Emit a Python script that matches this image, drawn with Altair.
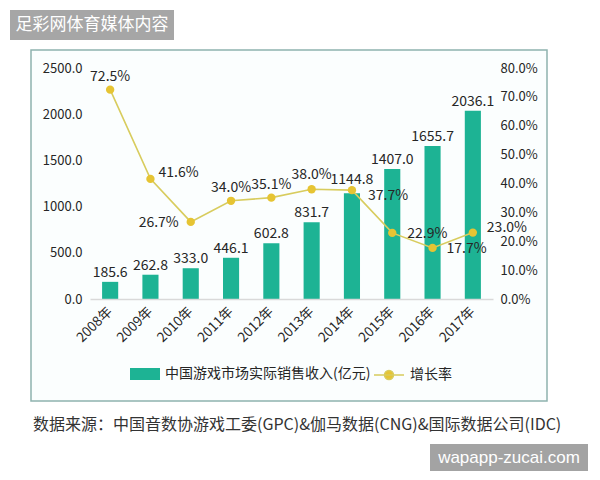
import altair as alt
import pandas as pd

# ---------------- data ----------------
years = ["2008年", "2009年", "2010年", "2011年", "2012年",
         "2013年", "2014年", "2015年", "2016年", "2017年"]
revenue = [185.6, 262.8, 333.0, 446.1, 602.8, 831.7, 1144.8, 1407.0, 1655.7, 2036.1]
growth = [72.5, 41.6, 26.7, 34.0, 35.1, 38.0, 37.7, 22.9, 17.7, 23.0]
left_ticks = [0, 500, 1000, 1500, 2000, 2500]
right_ticks = [0, 10, 20, 30, 40, 50, 60, 70, 80]
bar_series = "中国游戏市场实际销售收入(亿元)"
line_series = "增长率"
title_text = "足彩网体育媒体内容"
source_text = "数据来源：中国音数协游戏工委(GPC)&伽马数据(CNG)&国际数据公司(IDC)"
watermark_text = "wapapp-zucai.com"

# ---------------- styles ----------------
FONT = "Noto Sans CJK SC"
BAR_COLOR = "#1db394"
LINE_COLOR = "#d8cc5e"
POINT_COLOR = "#e6c433"
TEXT_COLOR = "#262626"
W, H = 403, 231
PAD = {"left": 90, "top": 68, "right": 107, "bottom": 181}

# label placement for growth labels: (dx, dy, align)
rate_label_style = {
    "2008年": (0, -13, "center"),
    "2009年": (8, -6, "left"),
    "2010年": (-12, 1, "right"),
    "2011年": (0, -13, "center"),
    "2012年": (0, -13, "center"),
    "2013年": (0, -14, "center"),
    "2014年": (16, 6, "left"),
    "2015年": (15, 1, "left"),
    "2016年": (14, 1, "left"),
    "2017年": (14, -5, "left"),
}
bar_label_dy = {"2014年": -13}

df = pd.DataFrame({
    "year": years,
    "revenue": revenue,
    "growth": growth,
    "bar_s": [bar_series] * len(years),
    "line_s": [line_series] * len(years),
})
one = pd.DataFrame({"a": [0]})

x_enc = alt.X(
    "year:O", sort=years, title=None,
    scale=alt.Scale(paddingInner=0.6, paddingOuter=0.3),
    axis=alt.Axis(labelAngle=-45, labelAlign="right", labelBaseline="middle",
                  labelPadding=10, ticks=False, domainColor="#d9d9d9",
                  domainWidth=1.5, labelFont=FONT, labelFontSize=13.5,
                  labelColor=TEXT_COLOR, zindex=1),
)

# ---------------- left (bars) ----------------
y_left = alt.Y(
    "revenue:Q", title=None,
    scale=alt.Scale(domain=[0, 2500], nice=False),
    axis=alt.Axis(values=left_ticks, format=".1f", grid=False, domain=False,
                  ticks=False, labelPadding=8, labelFont=FONT,
                  labelFontSize=13, labelColor=TEXT_COLOR, zindex=1),
)
bar_base = alt.Chart(df).encode(x=x_enc, y=y_left)
bars = bar_base.mark_bar().encode(
    color=alt.Color(
        "bar_s:N", title=None,
        scale=alt.Scale(domain=[bar_series], range=[BAR_COLOR]),
        legend=alt.Legend(orient="none", legendX=45, legendY=296,
                          symbolType="M-1.5,-0.6H1.5V0.6H-1.5Z",
                          symbolSize=400, symbolStrokeWidth=0,
                          labelFont=FONT, labelFontSize=14, labelLimit=400,
                          labelColor=TEXT_COLOR, labelOffset=10, padding=0,
                          zindex=1),
    )
)
bar_text_layers = []
for yr in years:
    dy = bar_label_dy.get(yr, -9)
    bar_text_layers.append(
        bar_base.transform_filter(alt.datum.year == yr).mark_text(
            font=FONT, fontSize=14, color=TEXT_COLOR, baseline="middle", dy=dy
        ).encode(text=alt.Text("revenue:Q", format=".1f"))
    )
left = alt.layer(bars, *bar_text_layers)

# ---------------- right (growth line) ----------------
y_right = alt.Y(
    "growth:Q", title=None,
    scale=alt.Scale(domain=[0, 80], nice=False),
    axis=alt.Axis(orient="right", values=right_ticks,
                  labelExpr="format(datum.value, '.1f') + '%'",
                  grid=False, domain=False, ticks=False, labelPadding=7,
                  labelFont=FONT, labelFontSize=13, labelColor=TEXT_COLOR,
                  zindex=1),
)
line_base = alt.Chart(df).encode(x=x_enc, y=y_right)
line = line_base.mark_line(strokeWidth=1.6).encode(
    stroke=alt.Stroke(
        "line_s:N", title=None,
        scale=alt.Scale(domain=[line_series], range=[LINE_COLOR]),
        legend=alt.Legend(orient="none", legendX=288, legendY=296,
                          symbolType="M-1.5,0H1.5M-0.45,0A0.45,0.45,0,1,1,0.45,0A0.45,0.45,0,1,1,-0.45,0Z",
                          symbolSize=400, symbolFillColor=POINT_COLOR,
                          symbolStrokeWidth=1.5,
                          labelFont=FONT, labelFontSize=14, labelLimit=200,
                          labelColor=TEXT_COLOR, labelOffset=10, padding=0,
                          zindex=1),
    )
)
points = line_base.mark_circle(size=70, color=POINT_COLOR, opacity=1)
rate_text_layers = []
for yr in years:
    dx, dy, al = rate_label_style[yr]
    rate_text_layers.append(
        line_base.transform_filter(alt.datum.year == yr).mark_text(
            font=FONT, fontSize=14, color=TEXT_COLOR, baseline="middle",
            dx=dx, dy=dy, align=al
        ).encode(text=alt.Text("label:N")).transform_calculate(
            label="format(datum.growth, '.1f') + '%'"
        )
    )
right = alt.layer(line, points, *rate_text_layers)

# ---------------- decorations ----------------
frame = alt.Chart(one).mark_rect(
    fill="#fbfefe", stroke="#8fb3af", strokeWidth=1.5
).encode(x=alt.value(-59), x2=alt.value(457), y=alt.value(-18), y2=alt.value(333))

title_box = alt.Chart(one).mark_rect(fill="#a6a6a6").encode(
    x=alt.value(-80), x2=alt.value(84), y=alt.value(-58), y2=alt.value(-28))
title_label = alt.Chart(one).mark_text(
    text=title_text, font=FONT, fontSize=17, color="white",
    align="center", baseline="middle"
).encode(x=alt.value(2), y=alt.value(-43))

source_label = alt.Chart(one).mark_text(
    text=source_text, font=FONT, fontSize=16, color="#333333",
    align="left", baseline="middle"
).encode(x=alt.value(-57), y=alt.value(357))

wm_box = alt.Chart(one).mark_rect(fill="#a3a3a3").encode(
    x=alt.value(340), x2=alt.value(498), y=alt.value(376), y2=alt.value(403))
wm_label = alt.Chart(one).mark_text(
    text=watermark_text, font="Liberation Sans", fontSize=17, color="white",
    align="center", baseline="middle"
).encode(x=alt.value(419), y=alt.value(390))

chart = alt.layer(
    frame, title_box, title_label, left, right, source_label, wm_box, wm_label
).resolve_scale(
    y="independent"
).properties(
    width=W, height=H,
    autosize=alt.AutoSizeParams(type="none"),
    padding=PAD,
).configure_view(strokeWidth=0)

chart.save("out.html", embed_options={"renderer": "svg", "actions": False})
